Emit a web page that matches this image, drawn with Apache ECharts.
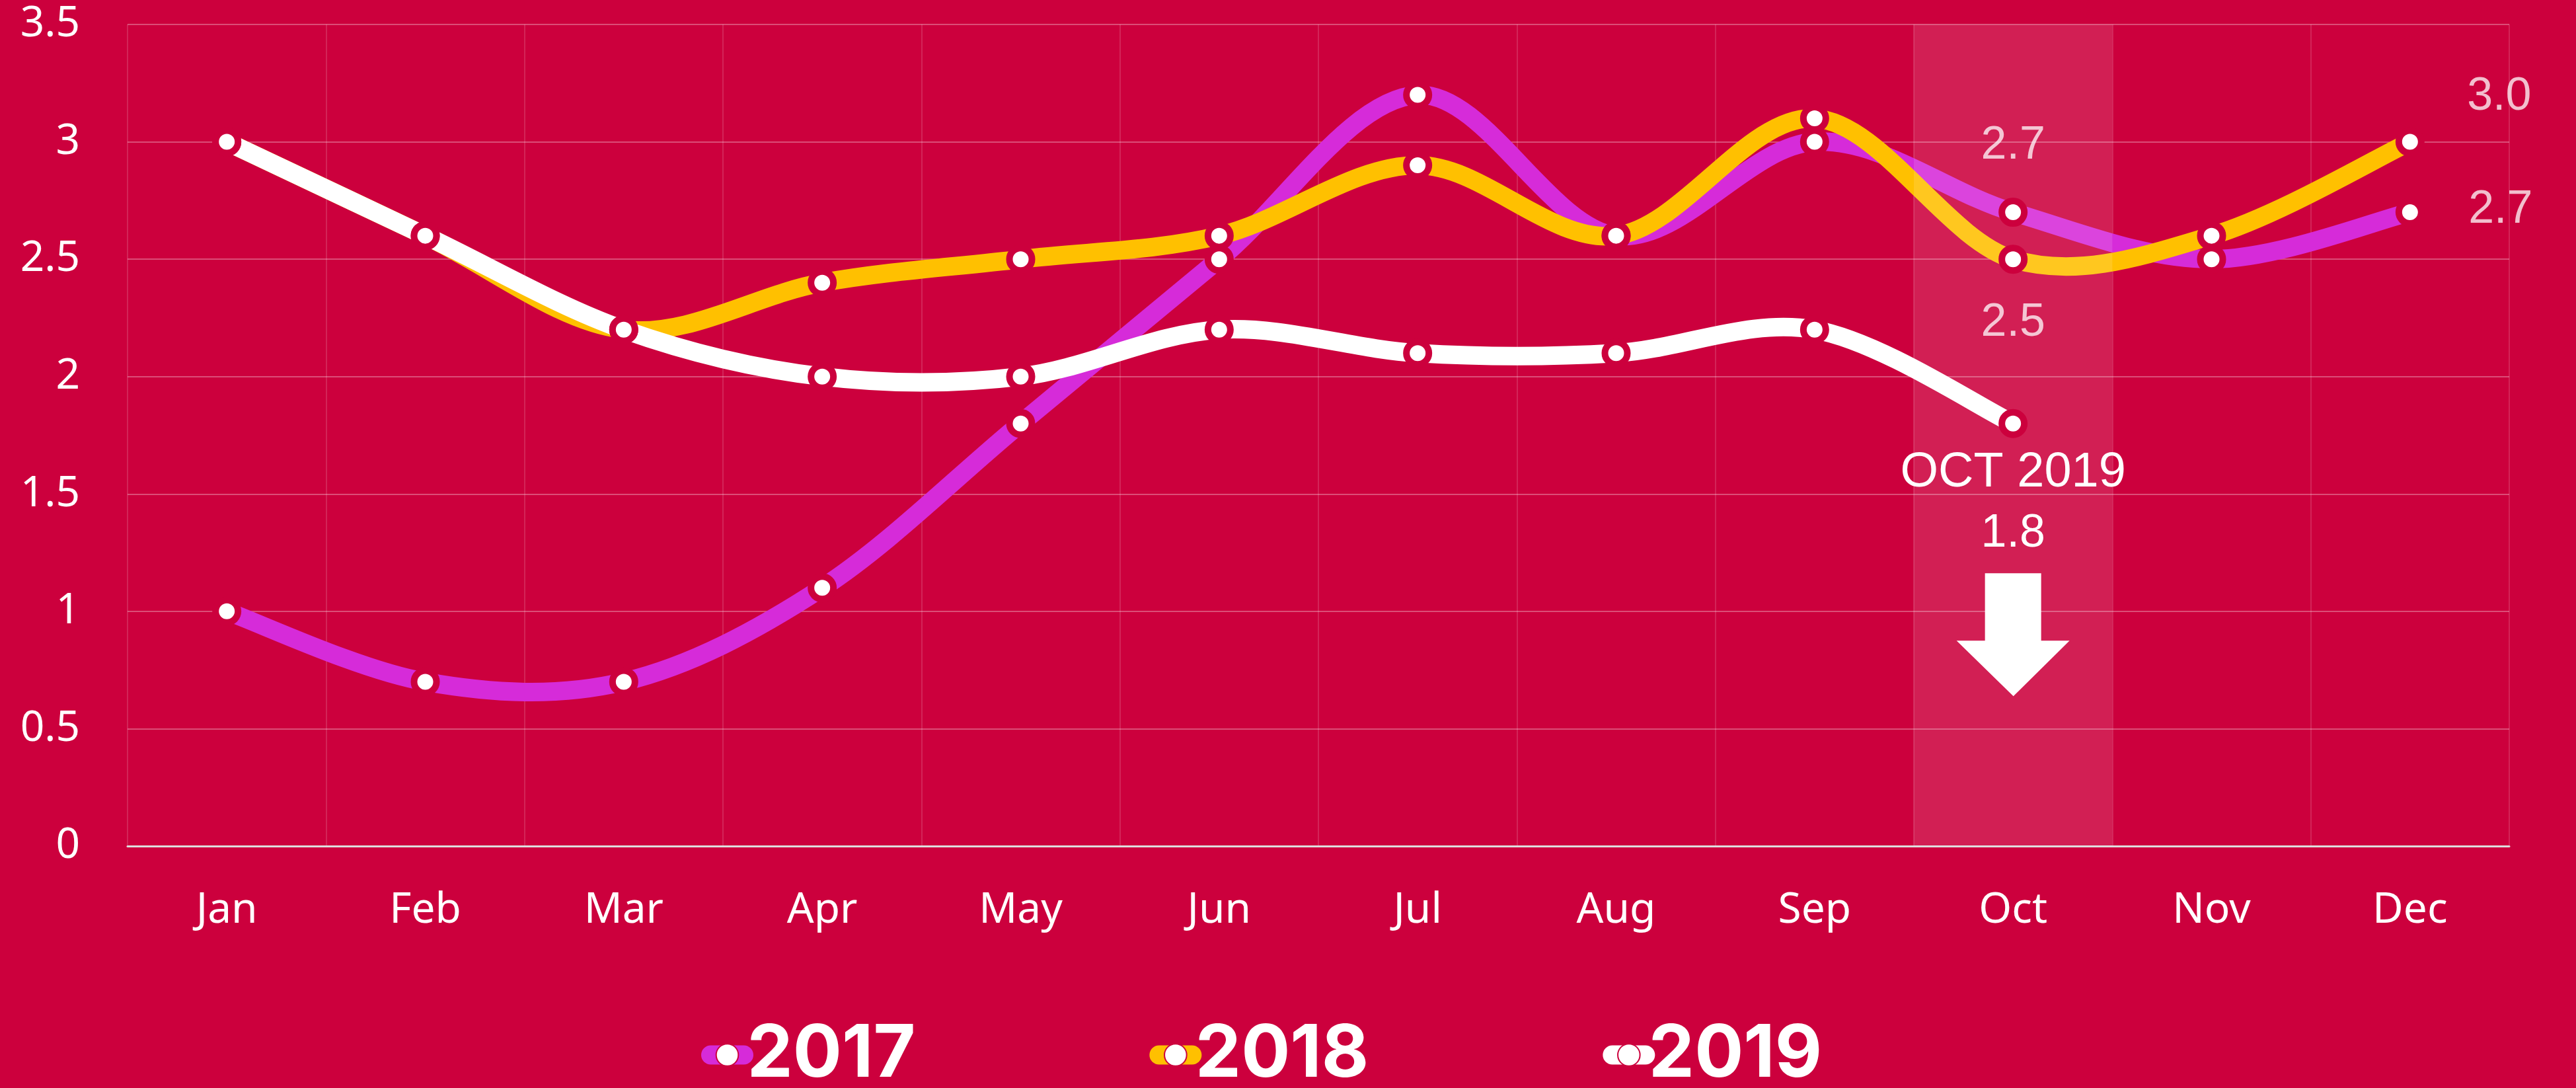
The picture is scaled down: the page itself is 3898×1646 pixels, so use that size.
<!DOCTYPE html>
<html>
<head>
<meta charset="utf-8">
<script src="https://cdn.jsdelivr.net/npm/echarts@6/dist/echarts.min.js"></script>
<style>
  html, body { margin: 0; padding: 0; background: #CC003D; }
  #chart { width: 3898px; height: 1646px; }
</style>
</head>
<body>
<div id="chart"></div>
<script>
const months = ['Jan','Feb','Mar','Apr','May','Jun','Jul','Aug','Sep','Oct','Nov','Dec'];
const seriesNames = ['2017','2018','2019'];
const values2017 = [1.0, 0.7, 0.7, 1.1, 1.8, 2.5, 3.2, 2.6, 3.0, 2.7, 2.5, 2.7];
const values2018 = [3.0, 2.6, 2.2, 2.4, 2.5, 2.6, 2.9, 2.6, 3.1, 2.5, 2.6, 3.0];
const values2019 = [3.0, 2.6, 2.2, 2.0, 2.0, 2.2, 2.1, 2.1, 2.2, 1.8, null, null];
const yTicks = { min: 0, max: 3.5, interval: 0.5 };
const highlightMonth = 'Oct';
const arrowValue = 0.9;
const calloutTitle = 'OCT 2019';

const BG = '#CC003D';
const COLORS = ['#D62BD9', '#FFC000', '#FFFFFF'];
const LABEL_COLOR = 'rgba(255,255,255,0.75)';
const LINE_WIDTH = 28;

function withLabels(values, labelMap) {
  return values.map((v, i) => {
    const m = months[i];
    if (labelMap[m] && v != null) {
      return { value: v, label: Object.assign({
        show: true, position: 'inside', color: LABEL_COLOR,
        fontFamily: 'Liberation Sans', fontSize: 70,
        formatter: (p) => Number(p.value).toFixed(1)
      }, labelMap[m]) };
    }
    return v;
  });
}

const data2017 = withLabels(values2017, { Oct: { offset: [0, -100] }, Dec: { offset: [137, -3] } });
const data2018 = withLabels(values2018, { Oct: { offset: [0, 97] }, Dec: { offset: [135, -68] } });
const data2019 = withLabels(values2019, {
  Oct: {
    offset: [0, 121], color: '#fff',
    formatter: (p) => '{a|' + calloutTitle + '}\n{b|' + Number(p.value).toFixed(1) + '}',
    rich: {
      a: { fontFamily: 'Liberation Sans', fontSize: 74, color: '#fff', lineHeight: 92 },
      b: { fontFamily: 'Liberation Sans', fontSize: 70, color: '#fff', lineHeight: 92 }
    }
  }
});
const highlightData = months.map(m => m === highlightMonth ? yTicks.max : null);

// Catmull-Rom style smooth curve drawn segment by segment through the axes' scales
function curveSeries(values, color) {
  return {
    type: 'custom',
    name: 'curve',
    silent: true,
    data: values.map((v, i) => [i, v == null ? 0 : v]),
    encode: { x: 0, y: 1 },
    renderItem: (params, api) => {
      const i = params.dataIndex;
      if (i >= values.length - 1 || values[i] == null || values[i + 1] == null) return null;
      const pt = k => api.coord([k, values[k]]);
      const p1 = pt(i), p2 = pt(i + 1);
      const p0 = (i > 0 && values[i - 1] != null) ? pt(i - 1) : p1;
      const p3 = (i + 2 < values.length && values[i + 2] != null) ? pt(i + 2) : p2;
      return {
        type: 'bezierCurve',
        shape: {
          x1: p1[0], y1: p1[1], x2: p2[0], y2: p2[1],
          cpx1: p1[0] + (p2[0] - p0[0]) / 6, cpy1: p1[1] + (p2[1] - p0[1]) / 6,
          cpx2: p2[0] - (p3[0] - p1[0]) / 6, cpy2: p2[1] - (p3[1] - p1[1]) / 6
        },
        style: { stroke: color, lineWidth: LINE_WIDTH, fill: null, lineCap: 'round' }
      };
    }
  };
}

function pointSeries(name, data, color) {
  return {
    name, type: 'line', data,
    symbol: 'circle', symbolSize: 34,
    lineStyle: { color, width: LINE_WIDTH, opacity: 0 },
    itemStyle: { color: '#fff', borderColor: BG, borderWidth: 10 },
    emphasis: { disabled: true },
    connectNulls: false
  };
}

const chart = echarts.init(document.getElementById('chart'), null, { renderer: 'canvas' });
const s19 = pointSeries(seriesNames[2], data2019, COLORS[2]);
s19.markPoint = {
  silent: true,
  animation: false,
  z: 10,
  data: [{
    coord: [highlightMonth, arrowValue],
    symbol: 'path://M43,0 L128,0 L128,102 L171,102 L86,186 L0,102 L43,102 Z',
    symbolSize: [171, 186],
    itemStyle: { color: '#fff', borderWidth: 0 },
    label: { show: false }
  }]
};

chart.setOption({
  backgroundColor: BG,
  animation: false,
  grid: { left: 193, right: 101, top: 37, bottom: 366 },
  legend: {
    data: seriesNames,
    left: 1056, top: 1536,
    itemWidth: 50, itemHeight: 42, itemGap: 354,
    lineStyle: { width: 29, cap: 'round', opacity: 1 },
    textStyle: { color: '#fff', fontFamily: 'Inter', fontWeight: 'bold', fontSize: 110 },
    selectedMode: false
  },
  xAxis: {
    type: 'category', data: months, boundaryGap: true,
    axisLine: { lineStyle: { color: '#dddddd', width: 3 } },
    axisTick: { show: false },
    axisLabel: { color: '#fff', fontFamily: 'Noto Sans', fontSize: 64, margin: 66 },
    splitLine: { show: true, lineStyle: { color: 'rgba(255,255,255,0.14)', width: 2 } }
  },
  yAxis: {
    type: 'value', min: yTicks.min, max: yTicks.max, interval: yTicks.interval,
    axisLine: { show: false }, axisTick: { show: false },
    axisLabel: { color: '#fff', fontFamily: 'Noto Sans', fontSize: 64, margin: 72 },
    splitLine: { lineStyle: { color: 'rgba(255,255,255,0.3)', width: 2 } }
  },
  series: [
    curveSeries(values2017, COLORS[0]),
    pointSeries(seriesNames[0], data2017, COLORS[0]),
    curveSeries(values2018, COLORS[1]),
    pointSeries(seriesNames[1], data2018, COLORS[1]),
    curveSeries(values2019, COLORS[2]),
    s19,
    {
      name: 'highlight', type: 'bar', data: highlightData, barWidth: '100%',
      itemStyle: { color: 'rgba(255,255,255,0.12)' }, silent: true, z: 3
    }
  ]
});
</script>
</body>
</html>
